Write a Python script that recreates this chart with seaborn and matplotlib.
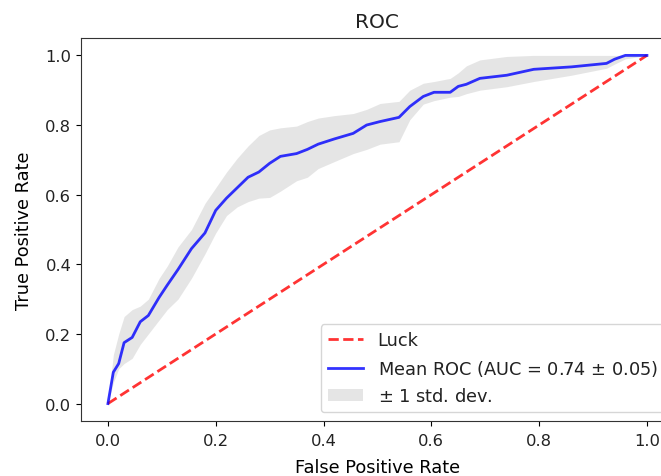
import matplotlib
matplotlib.use("Agg")
import matplotlib.pyplot as plt
import seaborn as sns
import numpy as np
import pandas as pd

fpr = [0, 0.01, 0.02, 0.03, 0.045, 0.06, 0.075, 0.095, 0.11, 0.13, 0.155, 0.18, 0.2, 0.22,
       0.24, 0.26, 0.28, 0.3, 0.32, 0.35, 0.37, 0.39, 0.42, 0.455, 0.48, 0.505, 0.54, 0.56,
       0.585, 0.605, 0.635, 0.65, 0.665, 0.69, 0.74, 0.79, 0.86, 0.925, 0.94, 0.96, 1.0]
mean_tpr = [0, 0.09, 0.115, 0.175, 0.19, 0.235, 0.253, 0.305, 0.34, 0.385, 0.445, 0.49, 0.555,
            0.59, 0.62, 0.65, 0.665, 0.69, 0.71, 0.718, 0.73, 0.745, 0.76, 0.776, 0.80, 0.81,
            0.822, 0.853, 0.882, 0.894, 0.894, 0.911, 0.917, 0.934, 0.943, 0.96, 0.967, 0.977,
            0.989, 1.0, 1.0]
tpr_upper = [0, 0.14, 0.2, 0.25, 0.27, 0.28, 0.3, 0.36, 0.395, 0.45, 0.5, 0.575, 0.62, 0.665,
             0.705, 0.74, 0.77, 0.786, 0.792, 0.797, 0.81, 0.82, 0.827, 0.833, 0.845, 0.862,
             0.868, 0.90, 0.92, 0.925, 0.934, 0.95, 0.97, 0.987, 0.997, 1.0, 1.0, 1.0, 1.0,
             1.0, 1.0]
tpr_lower = [0, 0.06, 0.1, 0.115, 0.13, 0.17, 0.2, 0.24, 0.27, 0.3, 0.36, 0.43, 0.49, 0.54,
             0.565, 0.58, 0.59, 0.592, 0.61, 0.64, 0.65, 0.675, 0.695, 0.718, 0.73, 0.745,
             0.752, 0.815, 0.86, 0.87, 0.88, 0.882, 0.89, 0.9, 0.91, 0.925, 0.943, 0.963,
             0.975, 0.99, 1.0]
luck_x = [0, 1]
luck_y = [0, 1]

plt.rcParams['font.family'] = ['DejaVu Sans']
plt.rcParams['xtick.labelsize'] = 11.8
plt.rcParams['ytick.labelsize'] = 11.8
plt.rcParams['axes.labelsize'] = 12.8
plt.rcParams['legend.fontsize'] = 12.8
plt.rcParams['axes.titlesize'] = 14.5
plt.rcParams['axes.edgecolor'] = '#333333'
plt.rcParams['text.color'] = '#222222'
plt.rcParams['xtick.labelcolor'] = '#222222'
plt.rcParams['ytick.labelcolor'] = '#222222'

fig = plt.figure(figsize=(6.61, 4.77), dpi=100)
ax = fig.add_axes([0.1225, 0.1153, 0.897, 0.803])

df_luck = pd.DataFrame({"x": luck_x, "y": luck_y})
df_mean = pd.DataFrame({"x": fpr, "y": mean_tpr})

sns.lineplot(data=df_luck, x="x", y="y", ax=ax, color='r', linestyle='--', lw=2,
             alpha=0.8, label='Luck', estimator=None, sort=False)
sns.lineplot(data=df_mean, x="x", y="y", ax=ax, color='b', lw=2, alpha=0.8,
             label=r'Mean ROC (AUC = 0.74 $\pm$ 0.05)', estimator=None, sort=False)
ax.fill_between(fpr, tpr_lower, tpr_upper, color='grey', alpha=0.2, lw=0,
                label=r'$\pm$ 1 std. dev.')

ax.set_xlim(-0.05, 1.05)
ax.set_ylim(-0.05, 1.05)
ax.tick_params(axis='x', pad=5)
ax.set_xlabel('False Positive Rate', labelpad=7)
ax.set_ylabel('True Positive Rate', labelpad=9)
ax.set_title('ROC', pad=8)
ax.legend(loc='lower right')

fig.savefig('out.png', dpi=100)
